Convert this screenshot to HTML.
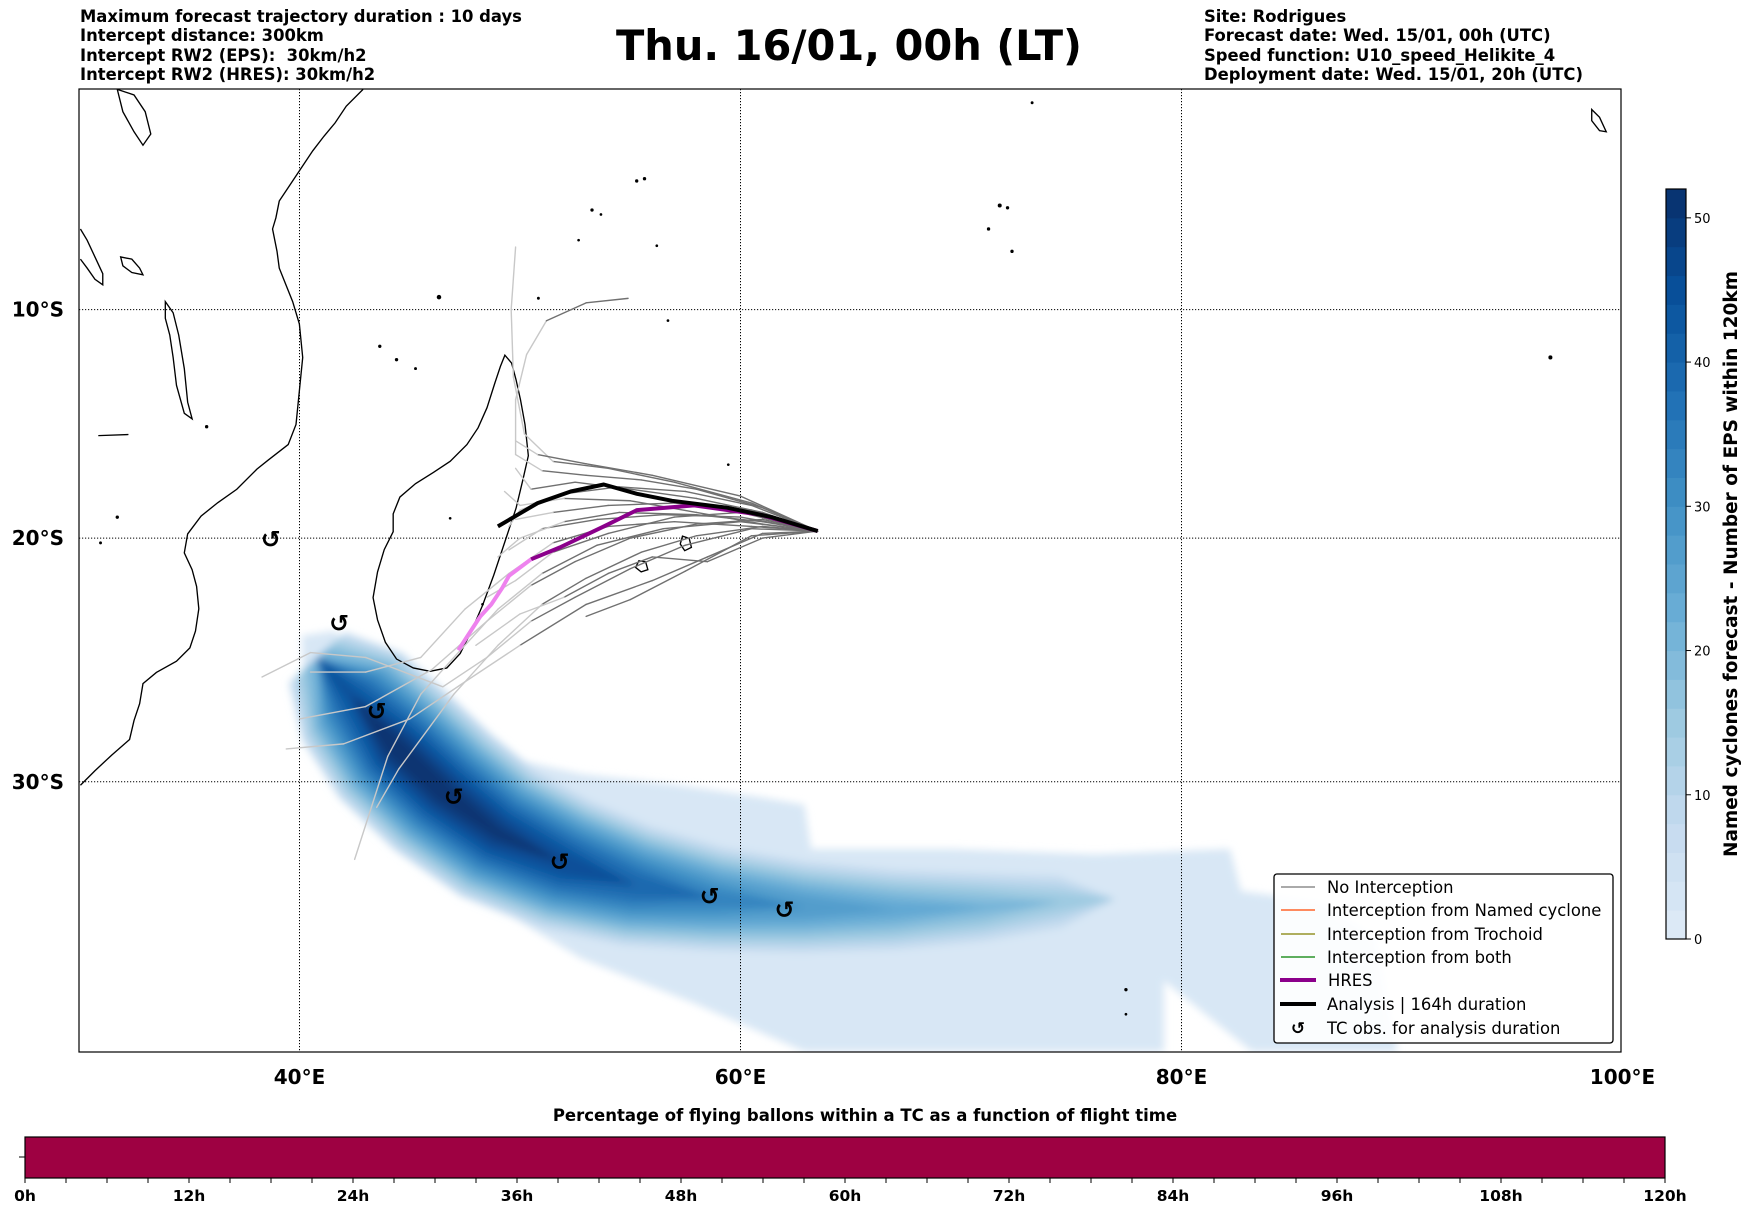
<!DOCTYPE html>
<html><head><meta charset="utf-8">
<style>
html,body{margin:0;padding:0;background:#fff;}
body{width:1752px;height:1213px;overflow:hidden;position:relative;font-family:"DejaVu Sans","Liberation Sans",sans-serif;}
.hd{position:absolute;font-weight:bold;font-size:16.4px;line-height:19.3px;color:#000;white-space:pre;}
</style></head>
<body>
<div class="hd" style="left:80px;top:7px">Maximum forecast trajectory duration : 10 days
Intercept distance: 300km
Intercept RW2 (EPS):  30km/h2
Intercept RW2 (HRES): 30km/h2</div>
<div class="hd" style="left:1204px;top:7px">Site: Rodrigues
Forecast date: Wed. 15/01, 00h (UTC)
Speed function: U10_speed_Helikite_4
Deployment date: Wed. 15/01, 20h (UTC)</div>
<div style="position:absolute;left:549px;width:600px;top:21px;text-align:center;font-weight:bold;font-size:41.5px;">Thu. 16/01, 00h (LT)</div>

<svg id="svg" width="1752" height="1213" style="position:absolute;left:0;top:0" xmlns="http://www.w3.org/2000/svg">
<defs>
<filter id="blur" x="-10%" y="-10%" width="120%" height="120%"><feGaussianBlur stdDeviation="4"/></filter>
<clipPath id="mapclip"><rect x="79" y="89" width="1542" height="963"/></clipPath>
</defs>
<g id="mapg" clip-path="url(#mapclip)">
<g id="density" filter="url(#blur)"></g>
<g id="grid"></g>
<g transform="scale(1.117)" fill="none" stroke="#000" stroke-width="1.2">
<path d="M325,80 L310,95 300,110 290,122 280,135 270,150 258,168 250,180 247,195 244,205 248,225 250,240 256,255 262,270 268,290 271,320 268,350 265,380 258,398 240,412 230,420 212,438 195,450 180,462 168,478 165,495 172,510 176,525 178,545 175,565 170,580 158,592 140,602 128,612 125,630 120,645 116,662 100,676 85,690 72,703"/>
<path d="M452,318 L458,325 462,340 466,358 470,380 473,408 468,430 462,455 452,485 442,515 432,542 422,565 412,585 400,598 385,601 370,598 355,590 345,575 338,555 334,535 338,512 344,492 352,476 352,460 358,445 372,433 388,423 403,413 418,398 428,383 436,365 443,343 448,328 Z"/>
<path d="M72,205 L78,215 85,230 92,245 92,255 85,250 78,240 72,232"/>
<path d="M148,270 L155,280 160,300 165,330 168,360 172,375 165,370 158,345 155,320 152,300 148,285 Z"/>
<path d="M108,230 L118,232 125,240 128,246 118,244 110,238 Z"/>
<path d="M611,480 L617,482 619,490 613,493 609,487 Z"/>
<path d="M572,502 L578,503 580,510 574,512 569,508 Z"/>
<path d="M1425,98 L1432,105 1438,118 1432,117 1425,108 Z"/>
<path d="M105,80 L120,85 130,100 135,120 128,130 120,118 110,100 Z"/>
<path d="M88,390 L115,389"/>
</g>
<g id="dots" fill="#000" transform="scale(1.117)">
<circle cx="570" cy="162" r="1.5"/><circle cx="577" cy="160" r="1.5"/><circle cx="530" cy="188" r="1.5"/><circle cx="538" cy="192" r="1.2"/><circle cx="518" cy="215" r="1.2"/><circle cx="588" cy="220" r="1.2"/><circle cx="895" cy="184" r="1.8"/><circle cx="902" cy="186" r="1.5"/><circle cx="885" cy="205" r="1.5"/><circle cx="906" cy="225" r="1.5"/><circle cx="393" cy="266" r="2"/><circle cx="482" cy="267" r="1.3"/><circle cx="340" cy="310" r="1.5"/><circle cx="355" cy="322" r="1.5"/><circle cx="372" cy="330" r="1.3"/><circle cx="598" cy="287" r="1.2"/><circle cx="652" cy="416" r="1.2"/><circle cx="1388" cy="320" r="1.8"/><circle cx="1008" cy="886" r="1.5"/><circle cx="1008" cy="908" r="1.2"/><circle cx="924" cy="92" r="1.3"/><circle cx="105" cy="463" r="1.5"/><circle cx="90" cy="486" r="1.3"/><circle cx="403" cy="464" r="1.2"/><circle cx="432" cy="541" r="1.2"/><circle cx="185" cy="382" r="1.5"/>
</g>
<g id="traj"></g>
<g id="tc"></g>
</g>
<rect x="79" y="89" width="1542" height="963" fill="none" stroke="#000" stroke-width="1.2"/>
<g id="axlabels" font-family="DejaVu Sans, Liberation Sans, sans-serif" font-weight="bold" font-size="20"></g>

<g font-family="DejaVu Sans, Liberation Sans, sans-serif" font-size="16.4">
<rect x="1274" y="874" width="339" height="169" rx="3" fill="#fff" fill-opacity="0.9" stroke="#000" stroke-width="1.3"/>
<g><line x1="1281" y1="887" x2="1315" y2="887" stroke="#777" stroke-width="1.3"/><text x="1327" y="893">No Interception</text></g>
<g><line x1="1281" y1="910" x2="1315" y2="910" stroke="#ff4500" stroke-width="1.3"/><text x="1327" y="916">Interception from Named cyclone</text></g>
<g><line x1="1281" y1="934" x2="1315" y2="934" stroke="#808000" stroke-width="1.3"/><text x="1327" y="940">Interception from Trochoid</text></g>
<g><line x1="1281" y1="957" x2="1315" y2="957" stroke="#008000" stroke-width="1.3"/><text x="1327" y="963">Interception from both</text></g>
<g><line x1="1280" y1="980" x2="1316" y2="980" stroke="#8b008b" stroke-width="4"/><text x="1328" y="986">HRES</text></g>
<g><line x1="1280" y1="1004" x2="1316" y2="1004" stroke="#000" stroke-width="4"/><text x="1327" y="1010">Analysis | 164h duration</text></g>
<g><text x="1298" y="1034" font-weight="bold" font-size="17" text-anchor="middle">↺</text><text x="1327" y="1034">TC obs. for analysis duration</text></g>
</g>

<g id="cbar"></g>
<text transform="translate(1737,564) rotate(-90)" text-anchor="middle" font-family="DejaVu Sans, Liberation Sans, sans-serif" font-weight="bold" font-size="18.5">Named cyclones forecast - Number of EPS within 120km</text>

<text x="865" y="1121" text-anchor="middle" font-family="DejaVu Sans, Liberation Sans, sans-serif" font-weight="bold" font-size="16.5">Percentage of flying ballons within a TC as a function of flight time</text>
<rect x="25" y="1137" width="1640" height="41" fill="#9e0142" stroke="#000" stroke-width="1.2"/>
<line x1="19" y1="1157" x2="25" y2="1157" stroke="#000" stroke-width="1"/>
<g id="tbar" font-family="DejaVu Sans, Liberation Sans, sans-serif" font-weight="bold" font-size="15.5"></g>
</svg>

<script>
const latTicks = [-10, -20, -30];
const lonTicks = [40, 60, 80, 100];
const cbarTicks = [0, 10, 20, 30, 40, 50];
const timeTicks = [0, 12, 24, 36, 48, 60, 72, 84, 96, 108, 120];
const analysisLon = [63.5, 61.4, 59.4, 56.9, 55.3, 53.8, 52.3, 50.8, 49.0];
const analysisLat = [-19.7, -19.1, -18.7, -18.4, -18.1, -17.7, -18.0, -18.5, -19.5];
const hresLon = [63.5, 60.9, 57.9, 55.3, 53.8, 51.8, 50.5, 49.5, 49.2, 48.7, 48.2, 47.7, 47.2];
const hresLat = [-19.7, -19.0, -18.6, -18.8, -19.5, -20.4, -20.9, -21.6, -22.1, -22.8, -23.3, -24.0, -24.7];
const tcLon = [38.7, 41.8, 43.5, 47.0, 51.8, 58.6, 62.0];
const tcLat = [-20.05, -23.6, -27.2, -30.6, -33.1, -34.4, -34.9];
const densLon = [40.8, 42.4, 44.3, 46.5, 49.0, 52.1, 55.3, 58.9, 62.9, 67.0, 71.0, 74.5, 77.0];
const densLat = [-25.0, -26.6, -28.6, -30.4, -32.0, -33.2, -34.0, -34.5, -34.8, -34.9, -34.8, -34.6, -34.5];
const densVal = [22, 44, 52, 52, 50, 46, 40, 33, 28, 24, 20, 15, 4];
const envLon = [40.1, 41.6, 43.1, 45.6, 48.7, 52.8, 56.9, 60.9, 62.9, 63.2, 69.5, 76.1, 82.2, 82.7, 86.3, 88.8, 89.8, 83.2, 79.2, 79.2, 62.9, 57.9, 52.8, 47.7, 44.2, 41.6, 40.2];
const envLat = [-24.1, -23.9, -25.7, -27.5, -28.9, -29.7, -30.1, -30.6, -30.9, -32.6, -32.6, -32.8, -32.6, -34.2, -34.6, -35.9, -40, -40, -37.5, -40, -40, -38.3, -36.7, -34.2, -31.7, -29.1, -26.4];
const members = [
[[63.5,-19.7],[61,-18.9],[58,-18.3],[55,-17.9],[52.5,-17.6],[50.5,-17.9],[49.8,-17]],
[[63.5,-19.7],[61,-18.7],[58,-17.9],[55.5,-17.5],[53,-17.3],[51,-17.1],[49.8,-16.4],[49.8,-14],[50.3,-12],[51.2,-10.5],[53,-9.7],[54.9,-9.5]],
[[63.5,-19.7],[60.5,-18.5],[57,-17.6],[54,-17],[51.5,-16.7],[50.2,-15.5],[49.7,-13],[49.6,-10],[49.8,-7.2]],
[[63.5,-19.7],[60,-19.3],[56.5,-19.6],[53.5,-20.3],[51,-21.5],[49,-23],[47,-25],[45.5,-26.5],[44,-29],[42.5,-33]],
[[63.5,-19.7],[60.5,-19.6],[57.5,-20.3],[55,-21.3],[52.5,-22.5],[50.5,-23.5],[48.5,-25],[46.5,-26.2],[43,-25],[40.5,-24.8],[38.3,-25.8]],
[[63.5,-19.7],[61,-19.8],[58.5,-20.8],[56,-21.8],[53,-22.8],[50,-24.5],[47.5,-26],[45,-27.5],[42,-28.5],[39.4,-28.7]],
[[63.5,-19.7],[60,-19.1],[56.5,-19.0],[53.5,-19.2],[51,-19.6],[49.5,-20.5]],
[[63.5,-19.7],[60.5,-18.8],[57,-18.5],[54,-18.6],[51.5,-18.9],[49.8,-19.2]],
[[63.5,-19.7],[61,-19.2],[58,-19.4],[55,-20.0],[52.5,-21],[50.5,-22],[48.5,-23.5],[46,-25.5],[43,-27],[40,-27.5]],
[[63.5,-19.7],[61,-19.5],[58,-19.9],[55.5,-20.6],[53,-21.7],[51,-22.8],[49,-24.5],[47,-26.5],[44.5,-29.5],[43.5,-31]],
[[63.5,-19.7],[60,-18.2],[56,-17.3],[53,-16.8],[50.8,-16.4],[49.8,-15.8]],
[[63.5,-19.7],[60,-18.9],[57,-19.1],[54,-19.8],[51.5,-20.6],[49.8,-21.8],[48.5,-22.5]],
[[63.5,-19.7],[61,-20],[58.5,-21],[56,-20.8],[54,-21.5],[52,-22.5],[50,-23.2],[48,-24.5]],
[[63.5,-19.7],[61,-19.4],[58,-18.9],[55,-18.4],[52,-18.3],[50,-18.6],[49.3,-18.0]],
[[63.5,-19.7],[60.5,-19.5],[57,-19.3],[54,-19.5],[51.5,-20.2],[49.5,-21.5],[47.5,-23],[45.5,-25],[43,-25.6],[40.5,-25.6]],
[[63.5,-19.7],[61,-19.3],[58,-19.0],[54.5,-18.9],[52,-19.3],[50,-20],[49,-20.8]],
[[63.5,-19.7],[60.5,-18.6],[57.5,-18.0],[54.5,-17.8],[52,-18.1],[50,-18.8],[49.5,-19.5]],
[[63.5,-19.7],[60.5,-19.9],[57.5,-21.4],[55,-22.6],[53,-23.3]]
];

const NS='http://www.w3.org/2000/svg';
const X0=79, PXDEG=22.05, Y0=88, K=1263;
function xOf(lon){return X0+(lon-30)*PXDEG;}
function yOf(lat){const r=Math.abs(lat)*Math.PI/180;return Y0+K*Math.log(Math.tan(Math.PI/4+r/2));}
const CB_TOP=189, CB_BOT=939, CB_MAX=52;
function yCb(v){return CB_BOT-(CB_BOT-CB_TOP)*v/CB_MAX;}
function xT(h){return 25+1640*h/120;}
const blues=[[247,251,255],[222,235,247],[198,219,239],[158,202,225],[107,174,214],[66,146,198],[33,113,181],[8,81,156],[8,48,107]];
function blue(v){let t=0.12+0.88*Math.max(0,Math.min(1,v/CB_MAX));t*=8;const i=Math.min(7,Math.floor(t)),f=t-i;const a=blues[i],b=blues[i+1];return 'rgb('+a.map((c,j)=>Math.round(c+(b[j]-c)*f)).join(',')+')';}
function el(tag,attrs,parent){const e=document.createElementNS(NS,tag);for(const k in attrs)e.setAttribute(k,attrs[k]);parent.appendChild(e);return e;}
function ptsStr(lons,lats){return lons.map((l,i)=>xOf(l).toFixed(1)+','+yOf(lats[i]).toFixed(1)).join(' ');}

const dens=document.getElementById('density');
const env=el('polygon',{points:ptsStr(envLon,envLat),fill:blue(2)},dens);


const cx=densLon.map(xOf), cy=densLat.map(yOf);
const nx=[],ny=[];
for(let i=0;i<cx.length;i++){const a=Math.max(0,i-1),b=Math.min(cx.length-1,i+1);const dx=cx[b]-cx[a],dy=cy[b]-cy[a],L=Math.hypot(dx,dy);nx.push(-dy/L);ny.push(dx/L);}
for(let t=4;t<=50;t+=3){
  const left=[],right=[];
  for(let i=0;i<cx.length;i++){const hw=Math.max(0,80*Math.pow(Math.max(0,densVal[i]-t)/CB_MAX,0.7));left.push([cx[i]+nx[i]*hw,cy[i]+ny[i]*hw]);right.push([cx[i]-nx[i]*hw,cy[i]-ny[i]*hw]);}
  const pts=left.concat(right.reverse()).map(p=>p[0].toFixed(1)+','+p[1].toFixed(1)).join(' ');
  const p=el('polygon',{points:pts,fill:blue(t+2)},dens);
  
  
}

const grid=document.getElementById('grid');
lonTicks.forEach(l=>{if(l<100){const g=el('line',{x1:xOf(l),x2:xOf(l),y1:89,y2:1052,stroke:'#000','stroke-width':1,'stroke-dasharray':'1.2,1.8'},grid);}});
latTicks.forEach(l=>{const g=el('line',{x1:79,x2:1621,y1:yOf(l),y2:yOf(l),stroke:'#000','stroke-width':1,'stroke-dasharray':'1.2,1.8'},grid);});
const axl=document.getElementById('axlabels');
latTicks.forEach(l=>{const t=el('text',{x:64,y:yOf(l)+7,'text-anchor':'end'},axl);t.textContent=Math.abs(l)+'°S';});
lonTicks.forEach(l=>{const t=el('text',{x:xOf(l),y:1084,'text-anchor':'middle'},axl);t.textContent=l+'°E';});

const traj=document.getElementById('traj');
members.forEach(m=>{
  for(let i=0;i<m.length-1;i++){
    const west=(m[i][0]+m[i+1][0])/2<51.5;
    const s=el('line',{x1:xOf(m[i][0]),y1:yOf(m[i][1]),x2:xOf(m[i+1][0]),y2:yOf(m[i+1][1]),stroke:west?'#c8c8c8':'#707070','stroke-width':1.4,'stroke-linecap':'round'},traj);
    
    
  }
});
const h1=el('polyline',{points:ptsStr(hresLon.slice(0,7),hresLat.slice(0,7)),fill:'none',stroke:'#8b008b','stroke-width':4,'stroke-linejoin':'round'},traj);


const h2=el('polyline',{points:ptsStr(hresLon.slice(6),hresLat.slice(6)),fill:'none',stroke:'#ee82ee','stroke-width':4,'stroke-linejoin':'round'},traj);


const an=el('polyline',{points:ptsStr(analysisLon,analysisLat),fill:'none',stroke:'#000','stroke-width':4,'stroke-linejoin':'round'},traj);



const tc=document.getElementById('tc');
tcLon.forEach((l,i)=>{const t=el('text',{x:xOf(l),y:yOf(tcLat[i])+8,'text-anchor':'middle','font-size':24,'font-weight':'bold','font-family':'DejaVu Sans, sans-serif'},tc);t.textContent='↺';});

const cb=document.getElementById('cbar');
for(let v=0;v<CB_MAX;v+=2){const r=el('rect',{x:1666,y:yCb(v+2),width:20,height:yCb(v)-yCb(v+2)+0.5,fill:blue(v+1)},cb);}
el('rect',{x:1666,y:CB_TOP,width:20,height:CB_BOT-CB_TOP,fill:'none',stroke:'#000','stroke-width':1.2},cb);
cbarTicks.forEach(v=>{el('line',{x1:1686,x2:1691,y1:yCb(v),y2:yCb(v),stroke:'#000'},cb);const t=el('text',{x:1694,y:yCb(v)+5,'font-size':13,'font-family':'DejaVu Sans, sans-serif'},cb);t.textContent=v;});

const tb=document.getElementById('tbar');
for(let h=0;h<=120;h+=3){el('line',{x1:xT(h),x2:xT(h),y1:1178,y2:1183,stroke:'#000','stroke-width':1},tb);}
timeTicks.forEach(h=>{const t=el('text',{x:xT(h),y:1201,'text-anchor':'middle'},tb);t.textContent=h+'h';});
</script>
</body></html>
